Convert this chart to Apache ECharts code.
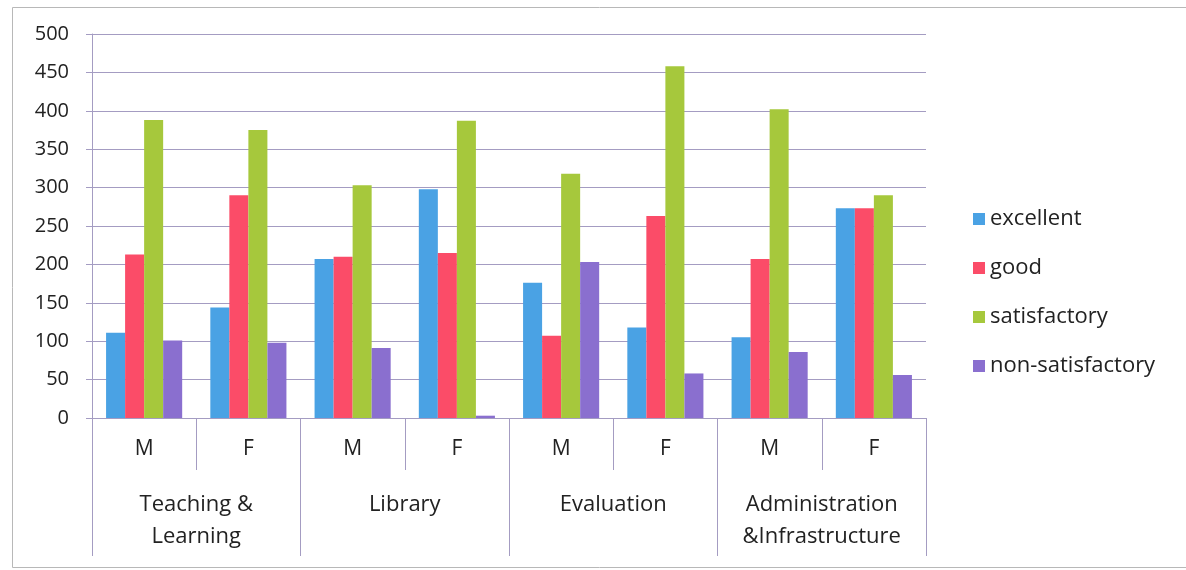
<!DOCTYPE html>
<html>
<head>
<meta charset="utf-8">
<script src="https://cdn.jsdelivr.net/npm/echarts@6/dist/echarts.min.js"></script>
<style>html,body{margin:0;padding:0;background:#fff;}#c{width:1186px;height:570px;}</style>
</head>
<body>
<div id="c"></div>
<script>
const genders = ['M','F','M','F','M','F','M','F'];
const groups = ['Teaching &\nLearning','Library','Evaluation','Administration\n&Infrastructure'];
const seriesNames = ['excellent','good','satisfactory','non-satisfactory'];
const excellent = [111, 144, 207, 298, 176, 118, 105, 273];
const good = [213, 290, 210, 215, 107, 263, 207, 273];
const satisfactory = [388, 375, 303, 387, 318, 458, 402, 290];
const nonSatisfactory = [101, 98, 91, 3, 203, 58, 86, 56];
const yTicks = [0, 50, 100, 150, 200, 250, 300, 350, 400, 450, 500];

const colors = ['#4aa2e4', '#fb4c68', '#a6c83c', '#8a6fcf'];
const values = [excellent, good, satisfactory, nonSatisfactory];
const font = '"Open Sans", "Liberation Sans", sans-serif';
const lineColor = '#a49cc2';

const chart = echarts.init(document.getElementById('c'));
chart.setOption({
  backgroundColor: '#fff',
  animation: false,
  color: colors,
  graphic: [{
    type: 'rect', left: 10, top: 5, shape: {width: 1174, height: 560},
    style: {fill: 'none', stroke: '#b8b8b8', lineWidth: 1}, silent: true, z: -10
  }],
  legend: {
    orient: 'vertical', left: 968, top: 203,
    itemWidth: 12, itemHeight: 12, itemGap: 27,
    icon: 'rect',
    textStyle: {fontFamily: font, fontSize: 22, color: '#222', lineHeight: 22, padding: [0,0,0,0]},
    data: seriesNames
  },
  grid: {left: 92, right: 260, top: 34, bottom: 152, containLabel: false},
  xAxis: [{
    type: 'category', data: genders, position: 'bottom',
    axisLine: {show: true, lineStyle: {color: lineColor}},
    axisTick: {show: true, length: 52, interval: 0, lineStyle: {color: lineColor}},
    axisLabel: {interval: 0, margin: 21, fontFamily: font, fontSize: 21, color: '#222'},
    splitLine: {show: false}
  }, {
    type: 'category', data: groups, position: 'bottom',
    axisLine: {show: false},
    axisTick: {show: true, length: 138, interval: 0, lineStyle: {color: lineColor}},
    axisLabel: {interval: 0, margin: 71, fontFamily: font, fontSize: 22, color: '#222', lineHeight: 32},
    splitLine: {show: false}
  }],
  yAxis: {
    type: 'value', min: 0, max: 500, interval: 50,
    axisLine: {show: true, lineStyle: {color: lineColor}},
    axisTick: {show: true, length: 6, lineStyle: {color: lineColor}},
    axisLabel: {margin: 23, fontFamily: font, fontSize: 20, color: '#222',
      formatter: v => yTicks.includes(v) ? String(v) : ''},
    splitLine: {show: true, lineStyle: {color: lineColor, width: 1}}
  },
  series: seriesNames.map((n, i) => ({
    name: n, type: 'bar', xAxisIndex: 0, data: values[i],
    barGap: '0%', barCategoryGap: '27%',
    itemStyle: {color: colors[i]}
  }))
});
</script>
</body>
</html>
